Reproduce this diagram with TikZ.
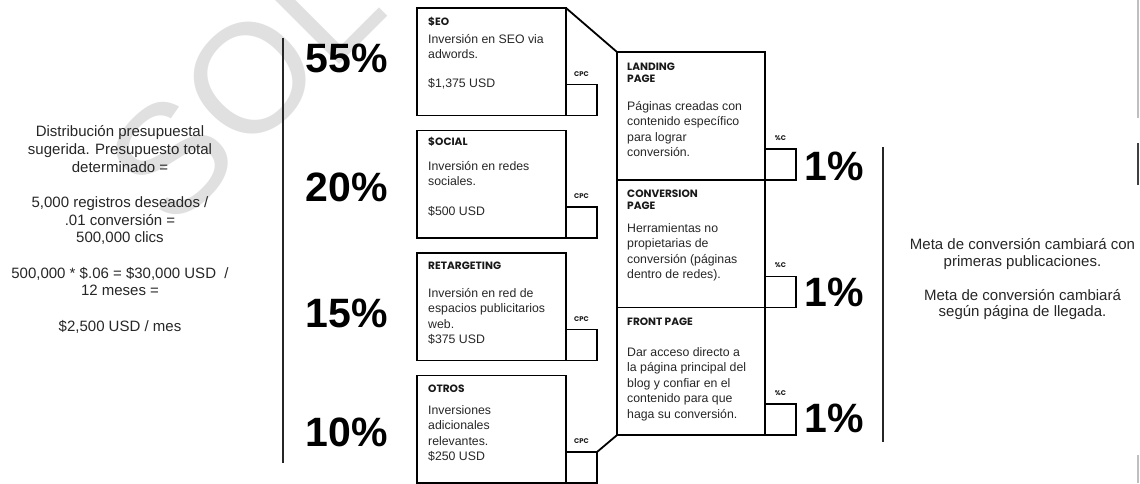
\documentclass[tikz,border=0pt]{standalone}
\usepackage{fontspec}
\usepackage{graphicx}
\setmainfont{Liberation Sans}
\newfontfamily\headfont{Poppins}
\begin{document}
\begin{tikzpicture}[x=1pt,y=-1pt,
  frame/.style={draw=black, line width=1.8pt, inner sep=0pt, outer sep=0pt, anchor=north west},
  inv/.style={frame, minimum width=149pt, minimum height=107.5pt},
  pagebox/.style={frame, minimum width=148pt, minimum height=127.7pt},
  tick/.style={frame, minimum width=31pt, minimum height=31pt, anchor=south west},
  head/.style={inner sep=0pt, anchor=north west, align=left, text=black!90,
    font=\headfont\bfseries\fontsize{10.6}{12.5}\selectfont},
  body/.style={inner sep=0pt, anchor=north west, align=left, text=black!85,
    font=\fontsize{12.3}{15.6}\selectfont},
  tag/.style={inner sep=0pt, anchor=base, text=black!90,
    font=\headfont\bfseries\fontsize{6.8}{7}\selectfont},
  big/.style={inner sep=0pt, anchor=center, text=black,
    font=\bfseries\fontsize{41}{41}\selectfont},
  note/.style={inner sep=0pt, anchor=north, align=center, text=black!85,
    font=\fontsize{15}{17.7}\selectfont},
  rule/.style={line width=1.3pt, black!85},
  link/.style={line width=1.8pt, line join=miter}
]
\useasboundingbox (0,0) rectangle (1140,483);

% watermark
\node[text=black!12, font=\fontsize{155}{155}\selectfont, rotate=45, inner sep=0pt] (wm) at (287,42) {SOLO};

% budget reasoning
\node[note] (budget) at (120,124.1) {\strut Distribución presupuestal\\
  sugerida. Presupuesto total\\
  determinado =\\[17.7pt]
  5,000 registros deseados /\\
  .01 conversión =\\
  500,000 clics\\[17.7pt]
  500,000 * \$.06 = \$30,000 USD~~/\\
  12 meses =\\[17.7pt]
  \$2,500 USD / mes};

% vertical rules
\coordinate (lt) at (283,38);
\coordinate (lb) at (283,463);
\coordinate (rt) at (883,147);
\coordinate (rb) at (883,442);
\draw[rule] (lt) -- (lb);
\draw[rule] (rt) -- (rb);

% shares
\node[big] (p55) at (347,58) {55\%};
\node[big] (p20) at (347,187) {20\%};
\node[big] (p15) at (347,313) {15\%};
\node[big] (p10) at (347,432) {10\%};

% investment boxes
\node[inv] (seo) at (417,8) {};
\node[inv] (social) at (417,130.5) {};
\node[inv] (retar) at (417,253) {};
\node[inv] (otros) at (417,375.5) {};
\node[tick] (seoc) at (seo.south east) {};
\node[tick] (socialc) at (social.south east) {};
\node[tick] (retarc) at (retar.south east) {};
\node[tick] (otrosc) at (otros.south east) {};
\node[tag] (seot) at ([yshift=8.5pt]seoc.north) {CPC};
\node[tag] (socialt) at ([yshift=8.5pt]socialc.north) {CPC};
\node[tag] (retart) at ([yshift=8.5pt]retarc.north) {CPC};
\node[tag] (otrost) at ([yshift=8.5pt]otrosc.north) {CPC};

\node[head] (seoh) at (428,16.5) {\strut\$EO};
\node[body] (seob) at (428,32) {\strut Inversión en SEO via\\adwords.};
\node[body] (seop) at (428,76) {\strut\$1,375 USD};

\node[head] (socialh) at (428,136.5) {\strut\$OCIAL};
\node[body] (socialb) at (428,159) {\strut Inversión en redes\\sociales.};
\node[body] (socialp) at (428,204) {\strut\$500 USD};

\node[head] (retarh) at (428,260.5) {\strut RETARGETING};
\node[body] (retarb) at (428,286) {\strut Inversión en red de\\espacios publicitarios\\web.\\\$375 USD};

\node[head] (otrosh) at (428,383.5) {\strut OTROS};
\node[body] (otrosb) at (428,403) {\strut Inversiones\\adicionales\\relevantes.\\\$250 USD};

% destination pages
\node[pagebox] (land) at (617,52) {};
\node[pagebox] (conv) at (land.south west) {};
\node[pagebox] (front) at (conv.south west) {};
\node[tick] (landc) at (land.south east) {};
\node[tick] (convc) at (conv.south east) {};
\node[tick] (frontc) at (front.south east) {};
\node[tag] (landt) at ([yshift=8.5pt]landc.north) {\%C};
\node[tag] (convt) at ([yshift=8.5pt]convc.north) {\%C};
\node[tag] (frontt) at ([yshift=8.5pt]frontc.north) {\%C};

\node[head] (landh) at (627,61.5) {\strut LANDING\\PAGE};
\node[body] (landb) at (627,99) {\strut Páginas creadas con\\contenido específico\\para lograr\\conversión.};

\node[head] (convh) at (627,188.5) {\strut CONVERSION\\PAGE};
\node[body] (convb) at (627,221) {\strut Herramientas no\\propietarias de\\conversión (páginas\\dentro de redes).};

\node[head] (fronth) at (627,316.5) {\strut FRONT PAGE};
\node[body] (frontb) at (627,345) {\strut Dar acceso directo a\\la página principal del\\blog y confiar en el\\contenido para que\\haga su conversión.};

% links between columns
\draw[link] (seo.north east) -- (land.north west);
\draw[link] (front.south west) -- (otrosc.north east);

% conversion rates
\node[big] (c1) at (834,166) {1\%};
\node[big] (c2) at (834,292) {1\%};
\node[big] (c3) at (834,418) {1\%};

% goal note
\node[note, font=\fontsize{15}{16.8}\selectfont] (goal) at (1022.5,237.7)
  {\strut Meta de conversión cambiará con\\
   primeras publicaciones.\\[16.8pt]
   Meta de conversión cambiará\\
   según página de llegada.};

% page edge marks
\coordinate (e1) at (1137.5,0);
\coordinate (e2) at (1137.5,118);
\coordinate (e3) at (1138,143);
\coordinate (e4) at (1138,185);
\coordinate (e5) at (1137.5,455);
\coordinate (e6) at (1137.5,483);
\draw[line width=2pt, black!25] (e1) -- (e2);
\draw[line width=1.5pt, black!75] (e3) -- (e4);
\draw[line width=2pt, black!25] (e5) -- (e6);
\end{tikzpicture}
\end{document}
